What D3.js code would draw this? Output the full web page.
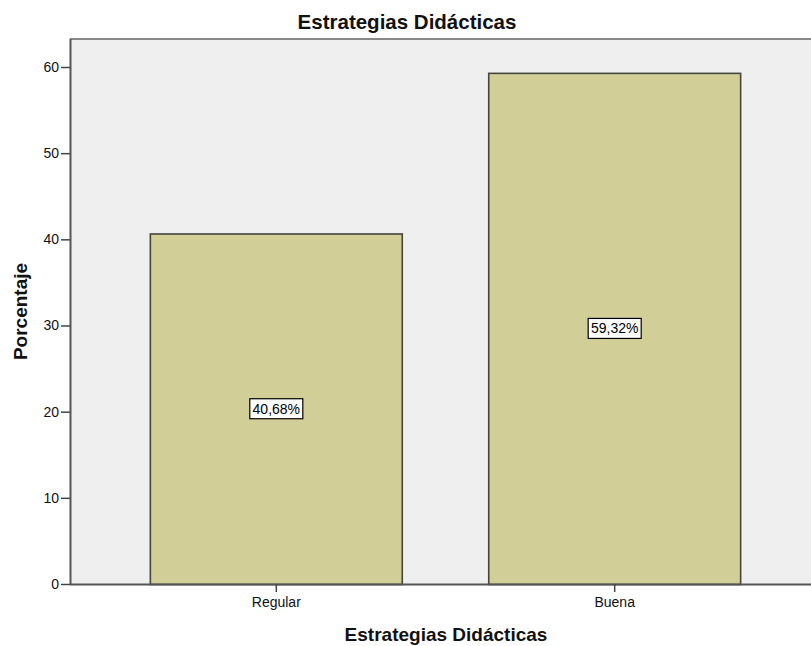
<!DOCTYPE html>
<html><head><meta charset="utf-8">
<script src="https://cdn.jsdelivr.net/npm/d3@7"></script>
<style>body{margin:0;background:#fff}svg{display:block}text{font-family:"Liberation Sans",Arial,sans-serif}</style>
</head><body>
<script>
const categories = ["Regular", "Buena"];
const values = [40.68, 59.32];
const valueLabels = ["40,68%", "59,32%"];
const yTicks = [0, 10, 20, 30, 40, 50, 60];
const title = "Estrategias Didácticas";
const xTitle = "Estrategias Didácticas";
const yTitle = "Porcentaje";

const W = 811, H = 646;
const L = 70, R = 821, T = 39, B = 584;
const svg = d3.select("body").append("svg").attr("width", W).attr("height", H);

const y = d3.scaleLinear().domain([0, 63.25]).range([B, T]);
const x = d3.scaleBand().domain(categories).range([L, R]).paddingInner(0.2526).paddingOuter(0.236);

svg.append("rect").attr("x", L).attr("y", T).attr("width", R - L).attr("height", B - T).attr("fill", "#efefef");
svg.append("line").attr("x1", L).attr("x2", W).attr("y1", T).attr("y2", T).attr("stroke", "#888").attr("stroke-width", 2);

svg.selectAll("rect.bar").data(values).join("rect").attr("class", "bar")
  .attr("x", (d, i) => x(categories[i]) + 0.5)
  .attr("y", d => y(d) + 0.5)
  .attr("width", x.bandwidth() - 1)
  .attr("height", d => B - y(d))
  .attr("fill", "#d2ce98").attr("stroke", "#45453c").attr("stroke-width", 1.6);

const lab = svg.selectAll("g.lab").data(values).join("g").attr("class", "lab")
  .attr("transform", (d, i) => `translate(${x(categories[i]) + x.bandwidth() / 2},${(y(d) + B) / 2})`);
lab.append("rect").attr("x", -26.5).attr("y", -10).attr("width", 53).attr("height", 20)
  .attr("fill", "#fff").attr("stroke", "#000").attr("stroke-width", 1.2);
lab.append("text").attr("text-anchor", "middle").attr("dy", "0.36em").attr("font-size", 14).attr("fill", "#000")
  .text((d, i) => valueLabels[i]);

const ya = svg.append("g").attr("transform", `translate(${L},0)`)
  .call(d3.axisLeft(y).tickValues(yTicks).tickSize(9).tickPadding(2).tickFormat(d3.format("d")));
ya.select(".domain").attr("d", `M0.5,${T}V${B}`).attr("stroke", "#555").attr("stroke-width", 2);
ya.selectAll(".tick line").attr("stroke", "#444").attr("stroke-width", 1.5);
ya.selectAll(".tick text").attr("font-size", 14).attr("fill", "#111").style("font-family", '"Liberation Sans",Arial,sans-serif');

const xa = svg.append("g").attr("transform", `translate(0,${B})`)
  .call(d3.axisBottom(x).tickSize(8).tickPadding(5));
xa.select(".domain").attr("d", `M${L},0.5H${W}`).attr("stroke", "#555").attr("stroke-width", 2);
xa.selectAll(".tick line").attr("stroke", "#444").attr("stroke-width", 1.5);
xa.selectAll(".tick text").attr("font-size", 14).attr("fill", "#111").style("font-family", '"Liberation Sans",Arial,sans-serif');

svg.append("text").attr("x", 407).attr("y", 29).attr("text-anchor", "middle")
  .attr("font-size", 20.5).attr("font-weight", "bold").attr("fill", "#111").text(title);
svg.append("text").attr("x", 446).attr("y", 641).attr("text-anchor", "middle")
  .attr("font-size", 19).attr("font-weight", "bold").attr("fill", "#111").text(xTitle);
svg.append("text").attr("transform", `translate(27,${(T + B) / 2}) rotate(-90)`).attr("text-anchor", "middle")
  .attr("font-size", 19).attr("font-weight", "bold").attr("fill", "#111").text(yTitle);
</script>
</body></html>
